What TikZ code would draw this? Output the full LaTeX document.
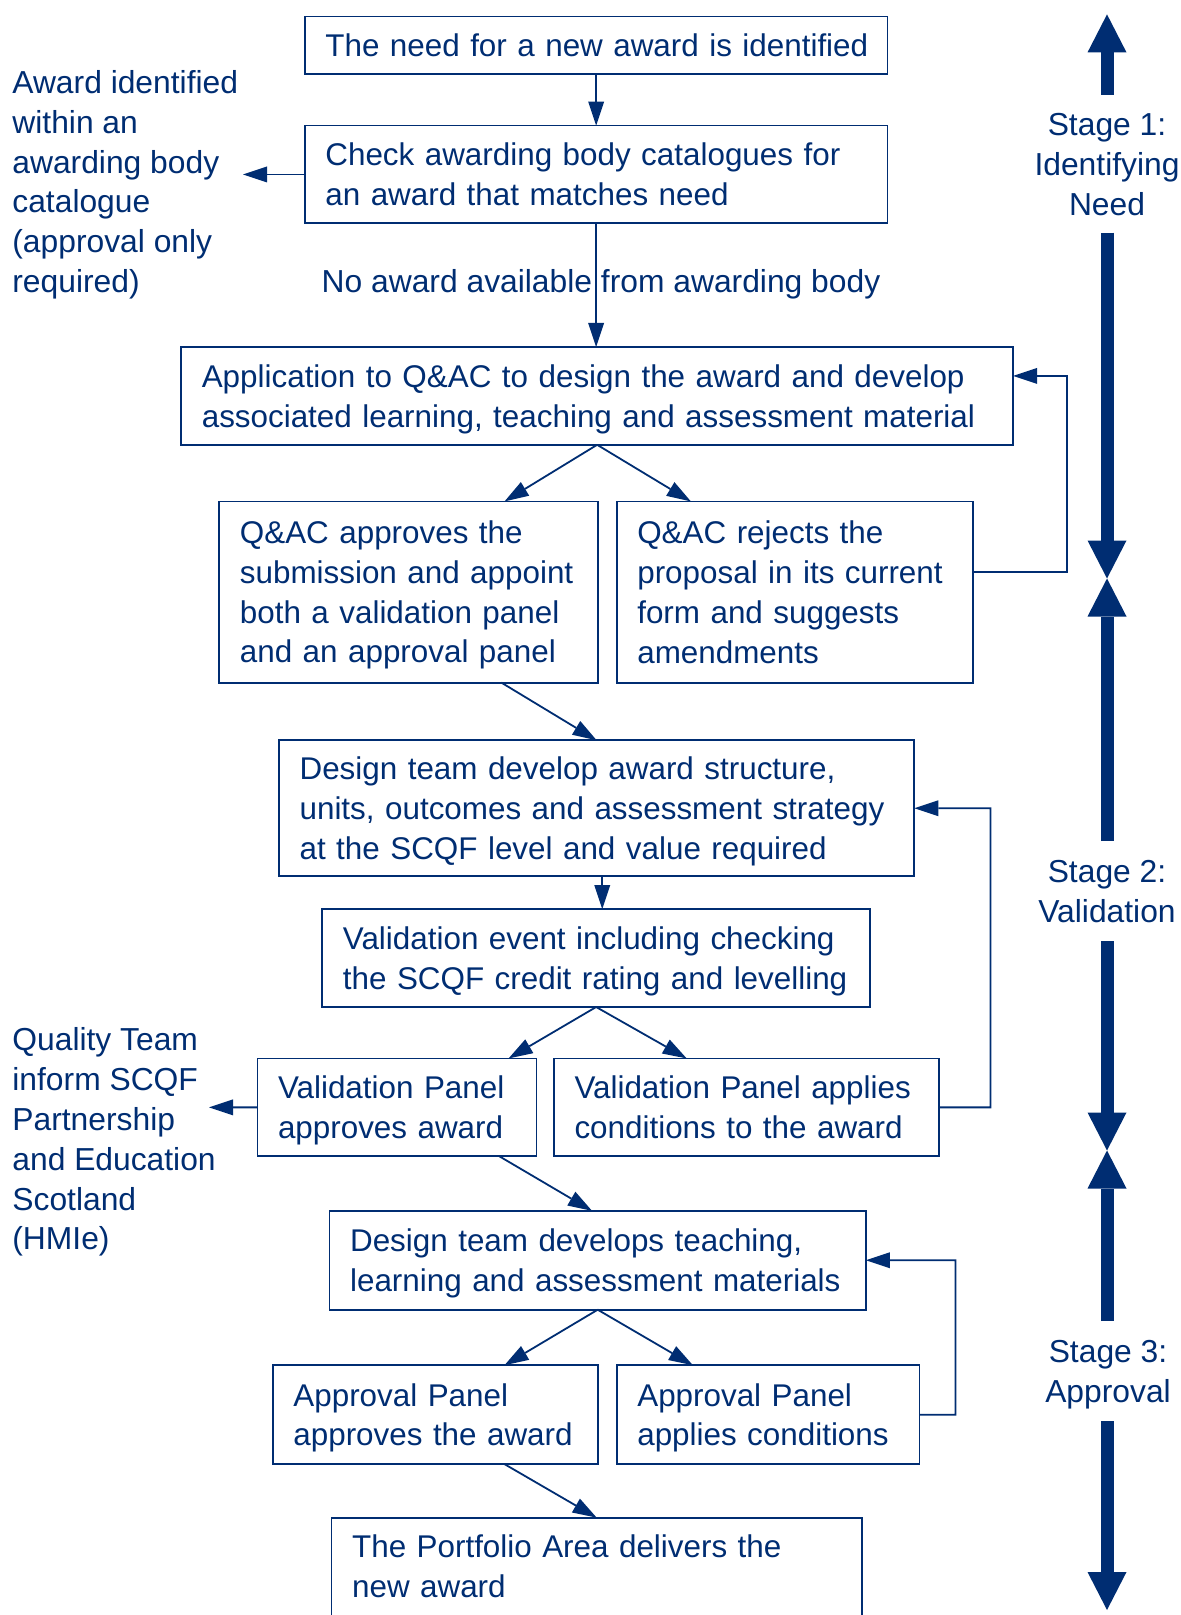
\documentclass[tikz,border=0pt]{standalone}
\usepackage{fontspec}
\setmainfont{Liberation Sans}
\usetikzlibrary{arrows.meta}
\definecolor{navy}{RGB}{0,45,114}
\newcommand{\boxstrut}{\rule[-3.2pt]{0pt}{17.7pt}}
\begin{document}
\begin{tikzpicture}[x=0.5pt,y=-0.5pt,
  every node/.style={text=navy, font=\fontsize{15.9}{19.9}\selectfont},
  box/.style={draw=navy, line width=0.9pt, align=left, inner xsep=10.3pt, inner ysep=0pt,
    outer sep=0pt, anchor=north west, font=\fontsize{15.7}{19.9}\selectfont,
    execute at begin node={\rightskip=-40pt plus 1fil\boxstrut},
    execute at end node={\boxstrut}},
  conn/.style={draw=navy, line width=0.9pt, -{Triangle[length=12pt,width=8pt,line width=0pt]}},
  stagearr/.style={draw=navy, line width=6.5pt, -{Triangle[length=19pt,width=19.5pt,line width=0pt]}},
  lbl/.style={inner sep=0pt, align=left, anchor=north west},
  stagelbl/.style={inner sep=0pt, align=center, anchor=north}]
\useasboundingbox (0,0) rectangle (1181,1615);
\clip (0,0) rectangle (1181,1615);

% boxes
\node[box, text width=270.75pt, minimum height=28.8pt] (b1) at (304.8,16.5) {The need for a new award is identified};
\node[box, text width=270.75pt, minimum height=48.9pt] (b2) at (304.8,125.6) {Check awarding body catalogues for\\an award that matches need};
\node[box, text width=395.35pt, minimum height=48.9pt] (b3) at (181.2,347) {Application to Q\&AC to design the award and develop\\associated learning, teaching and assessment material};
\node[box, text width=168.85pt, minimum height=90.6pt] (b4) at (219.3,501.4) {Q\&AC approves the\\submission and appoint\\both a validation panel\\and an approval panel};
\node[box, text width=157.55pt, minimum height=90.6pt] (b5) at (616.7,501.4) {Q\&AC rejects the\\proposal in its current\\form and suggests\\amendments};
\node[box, text width=297.05pt, minimum height=67.95pt] (b6) at (279,740.3) {Design team develop award structure,\\units, outcomes and assessment strategy\\at the SCQF level and value required};
\node[box, text width=253.25pt, minimum height=48.95pt] (b7) at (322.3,909.1) {Validation event including checking\\the SCQF credit rating and levelling};
\node[box, text width=118.9pt, minimum height=48.95pt] (b8) at (257.4,1058.4) {Validation Panel\\approves award};
\node[box, text width=171.95pt, minimum height=48.95pt] (b9) at (553.9,1058.4) {Validation Panel applies\\conditions to the award};
\node[box, text width=247.6pt, minimum height=49.45pt] (b10) at (329.5,1210.8) {Design team develops teaching,\\learning and assessment materials};
\node[box, text width=142.1pt, minimum height=49.45pt] (b11) at (272.8,1365.2) {Approval Panel\\approves the award};
\node[box, text width=130.75pt, minimum height=49.45pt] (b12) at (616.7,1365.2) {Approval Panel\\applies conditions};
\node[box, text width=244.55pt, minimum height=48.9pt] (b13) at (331.5,1517.6) {The Portfolio Area delivers the\\new award};

% side texts
\node[lbl] (l1) at (12,70) {Award identified\\within an\\awarding body\\catalogue\\(approval only\\required)};
\node[lbl] (l2) at (12,1027.5) {Quality Team\\inform SCQF\\Partnership\\and Education\\Scotland\\(HMIe)};
\node[lbl, anchor=north] (lab) at (601,268.6) {No award available from awarding body};

% connectors
\draw[conn] (b1.south) -- (b2.north);
\draw[conn] (b2.south) -- (b2.south |- b3.north);
\coordinate (t1) at (243,174.5);
\draw[conn] (b2.west) -- (t1);
\draw[conn] (b3.south) -- ([xshift=47.9pt]b4.north);
\draw[conn] (b3.south) -- ([xshift=-52pt]b5.north);
\draw[conn] ([xshift=46.3pt]b4.south) -- (b6.north);
\coordinate (f1) at (1067,572);
\draw[conn] ([yshift=10pt]b5.east) -- (f1) |- ([yshift=10pt]b3.east);
\draw[conn] ([xshift=2.8pt]b6.south) -- ([xshift=2.8pt]b6.south |- b7.north);
\draw[conn] (b7.south) -- ([xshift=55.85pt]b8.north);
\draw[conn] (b7.south) -- ([xshift=-29.9pt]b9.north);
\coordinate (f2) at (990.5,1107.35);
\draw[conn] (b9.east) -- (f2) |- (b6.east);
\coordinate (t2) at (209,1107.35);
\draw[conn] (b8.west) -- (t2);
\draw[conn] ([xshift=51.25pt]b8.south) -- ([xshift=-2.85pt]b10.north);
\draw[conn] (b10.south) -- ([xshift=34.5pt]b11.north);
\draw[conn] (b10.south) -- ([xshift=-37.6pt]b12.north);
\coordinate (f3) at (955.5,1414.65);
\draw[conn] (b12.east) -- (f3) |- (b10.east);
\draw[conn] ([xshift=34.5pt]b11.south) -- (b13.north);

% stage arrows
\coordinate (s0) at (1107,14.4);
\coordinate (s1) at (1107,95);
\coordinate (s2) at (1107,232.7);
\coordinate (m1) at (1107,578.5);
\coordinate (s3) at (1107,841);
\coordinate (s4) at (1107,941);
\coordinate (m2) at (1107,1150.5);
\coordinate (s5) at (1107,1321);
\coordinate (s6) at (1107,1421);
\coordinate (s7) at (1107,1610);
\draw[stagearr] (s1) -- (s0);
\draw[stagearr] (s2) -- (m1);
\draw[stagearr] (s3) -- (m1);
\draw[stagearr] (s4) -- (m2);
\draw[stagearr] (s5) -- (m2);
\draw[stagearr] (s6) -- (s7);

\node[stagelbl] (st1) at (1107,113) {Stage 1:\\Identifying\\Need};
\node[stagelbl] (st2) at (1107,859.6) {Stage 2:\\Validation};
\node[stagelbl] (st3) at (1108,1339.6) {Stage 3:\\Approval};
\end{tikzpicture}
\end{document}
